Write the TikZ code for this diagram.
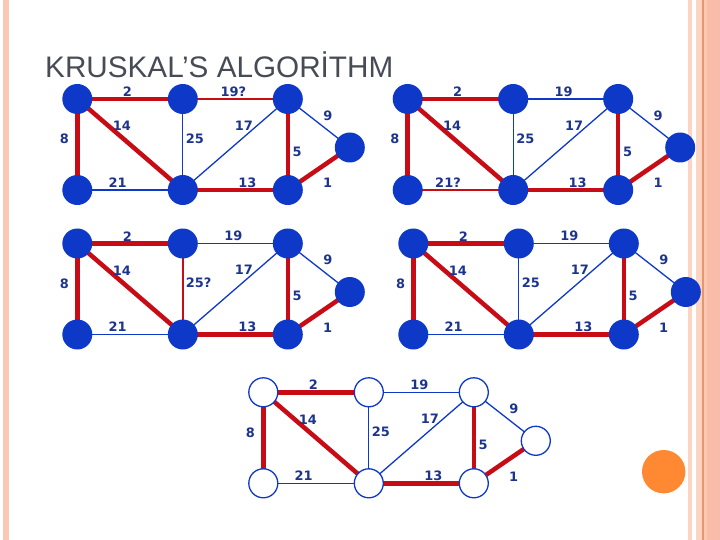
\documentclass[tikz,border=0pt]{standalone}
\usepackage{fontspec}
\setmainfont{Liberation Sans}
\newfontfamily\wtfont{DejaVu Sans}
\usetikzlibrary{positioning}

\definecolor{vblue}{RGB}{14,56,200}
\definecolor{wblue}{RGB}{28,52,140}
\definecolor{ered}{RGB}{200,12,22}
\definecolor{tgray}{RGB}{70,75,85}
\definecolor{peach}{RGB}{250,200,180}
\definecolor{peachlt}{RGB}{252,212,196}
\definecolor{peachdk}{RGB}{248,188,168}
\definecolor{orangeln}{RGB}{232,150,110}
\definecolor{dotorange}{RGB}{255,136,50}

\pgfdeclarelayer{edges}
\pgfsetlayers{edges,main}

\begin{document}
\begin{tikzpicture}[x=1bp, y=-1bp]
    % Styles
    \tikzstyle{vfull} = [circle, fill=vblue, minimum size=30bp, inner sep=0pt]
    \tikzstyle{vopen} = [circle, draw=vblue, fill=white, line width=1.3bp, minimum size=29bp, inner sep=0pt]
    \tikzstyle{mst} = [draw=ered, line width=4.5bp]
    \tikzstyle{cand} = [draw=ered, line width=2bp]
    \tikzstyle{rej} = [draw=vblue, line width=1.3bp]
    \tikzstyle{wt} = [font=\wtfont\bfseries\fontsize{13}{15}\selectfont, text=wblue, inner sep=0pt]

    \useasboundingbox (0,0) rectangle (720,540);

    % Page frame
    \fill[peach] (3,0) rectangle (9,540);
    \fill[peachlt] (688,0) rectangle (692,540);
    \fill[peachlt] (696,0) rectangle (702,540);
    \fill[orangeln] (702,0) rectangle (703.5,540);
    \fill[peach] (703.5,0) rectangle (707,540);
    \fill[peachdk] (707,0) rectangle (720,540);

    % Title
    \node[anchor=base west, font=\fontsize{29.8}{34}\selectfont, text=tgray, inner sep=0pt] (title) at (45,78) {KRUSKAL’S ALGORİTHM};

    % Steps
    \foreach \g/\ox/\oy/\vtx/\sa/\sb/\sc/\la/\lb/\lc in {%
        p1/77.3/99/vfull/cand/rej/rej/19?/21/25,
        p2/407.7/99/vfull/rej/cand/rej/19/21?/25,
        p3/77.3/243.5/vfull/rej/rej/cand/19/21/25?,
        p4/413.3/243.5/vfull/rej/rej/rej/19/21/25,
        p5/263.3/392.3/vopen/rej/rej/rej/19/21/25}{
    \begin{scope}[shift={(\ox,\oy)}]
        % Vertices
        \node[\vtx] (\g-a) at (0,0) {};
        \node[\vtx] (\g-b) at (105.5,0) {};
        \node[\vtx] (\g-c) at (210.5,0) {};
        \node[\vtx] (\g-d) at (272.5,48.5) {};
        \node[\vtx] (\g-e) at (0,91) {};
        \node[\vtx] (\g-f) at (105.5,91) {};
        \node[\vtx] (\g-g) at (210.5,91) {};

        % Edges
        \begin{pgfonlayer}{edges}
        \path[mst] (\g-a.center) -- (\g-b.center);
        \path[\sa] (\g-b.center) -- (\g-c.center);
        \path[mst] (\g-a.center) -- (\g-e.center);
        \path[mst] (\g-a.center) -- (\g-f.center);
        \path[\sc] (\g-b.center) -- (\g-f.center);
        \path[rej] (\g-c.center) -- (\g-f.center);
        \path[rej] (\g-c.center) -- (\g-d.center);
        \path[mst] (\g-c.center) -- (\g-g.center);
        \path[\sb] (\g-e.center) -- (\g-f.center);
        \path[mst] (\g-f.center) -- (\g-g.center);
        \path[mst] (\g-g.center) -- (\g-d.center);
        \end{pgfonlayer}

        % Weights
        \node[wt] (\g-w2) at (50,-7.3) {2};
        \node[wt] (\g-w19) at (156,-7.3) {\la};
        \node[wt] (\g-w8) at (-12.8,40.2) {8};
        \node[wt] (\g-w14) at (44.5,27) {14};
        \node[wt, anchor=west] (\g-w25) at (108.4,39.5) {\lc};
        \node[wt] (\g-w17) at (166.5,26.5) {17};
        \node[wt] (\g-w9) at (250.5,16.5) {9};
        \node[wt] (\g-w5) at (219.8,52.5) {5};
        \node[wt] (\g-w21) at (40.3,83.5) {\lb};
        \node[wt] (\g-w13) at (170,83.5) {13};
        \node[wt] (\g-w1) at (250.3,84) {1};
    \end{scope}
    }

    % Corner dot
    \node[circle, fill=dotorange, minimum size=43.4bp, inner sep=0pt] (dot) at (663.7,471.7) {};
\end{tikzpicture}
\end{document}
